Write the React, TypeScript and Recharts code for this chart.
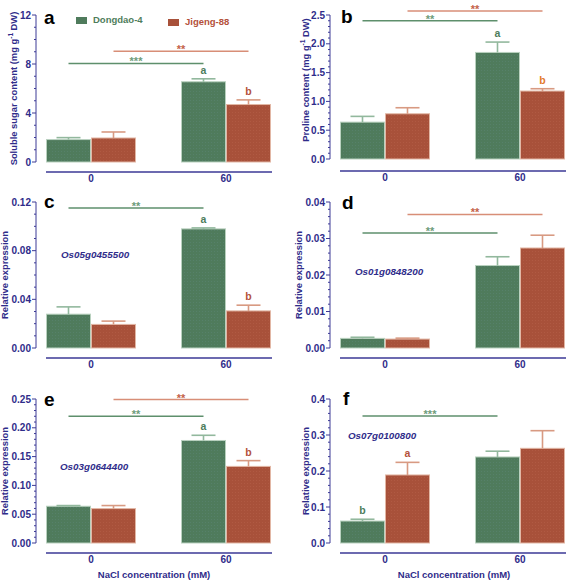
import React from 'react';
import { BarChart, Bar, XAxis, YAxis, Legend } from 'recharts';

// ---------------------------------------------------------------------------
// Style
// ---------------------------------------------------------------------------

const FONT = '"Liberation Sans", Arial, Helvetica, sans-serif';
const NAVY = '#2f2c8a';
const AXIS = '#3d3a96';
const GREEN = '#4f7b5c';
const RED = '#a8513a';
const GREEN_TEXT = '#4e7d5b';
const RED_TEXT = '#b4513a';

// ---------------------------------------------------------------------------
// Data
// ---------------------------------------------------------------------------

const groups = ['0', '60'];

// a – soluble sugar content
const sugarDongdao = [1.83, 6.55];
const sugarDongdaoErr = [0.16, 0.24];
const sugarJigeng = [1.96, 4.69];
const sugarJigengErr = [0.49, 0.38];
const sugarTicks = [0, 4, 8, 12];

// b – proline content
const prolineDongdao = [0.64, 1.85];
const prolineDongdaoErr = [0.1, 0.18];
const prolineJigeng = [0.785, 1.18];
const prolineJigengErr = [0.105, 0.04];
const prolineTicks = [0, 0.5, 1, 1.5, 2, 2.5];

// c – Os05g0455500
const os05Dongdao = [0.0278, 0.0979];
const os05DongdaoErr = [0.006, 0.0008];
const os05Jigeng = [0.0194, 0.0305];
const os05JigengErr = [0.0027, 0.0047];
const os05Ticks = [0, 0.04, 0.08, 0.12];

// d – Os01g0848200
const os01Dongdao = [0.00264, 0.0226];
const os01DongdaoErr = [0.0003, 0.0024];
const os01Jigeng = [0.00245, 0.0274];
const os01JigengErr = [0.00025, 0.0035];
const os01Ticks = [0, 0.01, 0.02, 0.03, 0.04];

// e – Os03g0644400
const os03Dongdao = [0.0638, 0.178];
const os03DongdaoErr = [0.0012, 0.009];
const os03Jigeng = [0.0597, 0.133];
const os03JigengErr = [0.0053, 0.01];
const os03Ticks = [0, 0.05, 0.1, 0.15, 0.2, 0.25];

// f – Os07g0100800
const os07Dongdao = [0.061, 0.239];
const os07DongdaoErr = [0.005, 0.016];
const os07Jigeng = [0.189, 0.263];
const os07JigengErr = [0.035, 0.049];
const os07Ticks = [0, 0.1, 0.2, 0.3, 0.4];

// letters over bars
const lettersAB = ['', 'a'];
const lettersBB = ['', 'b'];
const lettersNone = ['', ''];
const os07DongdaoLetters = ['b', ''];
const os07JigengLetters = ['a', ''];

// significance bars (0 vs 60 mM), [Dongdao-4, Jigeng-88]
const sugarSig = [8.05, 9.05];
const prolineSig = [2.4, 2.57];
const os05Sig = [0.115, null];
const os01Sig = [0.0315, 0.0366];
const os03Sig = [0.22, 0.249];
const os07Sig = [0.353, null];
const sugarStars = ['***', '**'];
const twoStars = ['**', '**'];
const os07Stars = ['***', ''];

const seriesNames = ['Dongdao-4', 'Jigeng-88'];
const panelLetters = ['a', 'b', 'c', 'd', 'e', 'f'];
const geneNames = ['Os05g0455500', 'Os01g0848200', 'Os03g0644400', 'Os07g0100800'];

// ---------------------------------------------------------------------------
// Panel layout
// ---------------------------------------------------------------------------

type Panel = {
  id: string;
  col: number;
  top: number;
  height: number;
  marginTop: number;
  padBottom: number;
  xHeight: number;
  majors: number[];
  minorDiv: number;
  decimals: number;
  yLabel: React.ReactNode;
  labelX: number;
  labelDy: number;
  dd: number[];
  ddErr: number[];
  jg: number[];
  jgErr: number[];
  ddLetters: string[];
  jgLetters: string[];
  jgLetterColor: string;
  sig: (number | null)[];
  stars: string[];
  title: boolean;
  titleDx: number;
  legend: boolean;
};

const relExpr = 'Relative expression';

const panels: Panel[] = [
  {
    id: 'a', col: 0, top: 0, height: 190, marginTop: 15, padBottom: 10, xHeight: 18,
    majors: sugarTicks, minorDiv: 4, decimals: 0,
    yLabel: (<>Soluble sugar content (mg g<tspan dy={-4} fontSize={6.5}>-1</tspan><tspan dy={4}> DW)</tspan></>),
    labelX: 17, labelDy: 0,
    dd: sugarDongdao, ddErr: sugarDongdaoErr, jg: sugarJigeng, jgErr: sugarJigengErr,
    ddLetters: lettersAB, jgLetters: lettersBB, jgLetterColor: RED_TEXT,
    sig: sugarSig, stars: sugarStars, title: false, titleDx: 0, legend: true,
  },
  {
    id: 'b', col: 1, top: 0, height: 189, marginTop: 15, padBottom: 12, xHeight: 18,
    majors: prolineTicks, minorDiv: 5, decimals: 1,
    yLabel: (<>Proline content (mg g<tspan dy={-4} fontSize={6.5}>-1</tspan><tspan dy={4}> DW)</tspan></>),
    labelX: 15, labelDy: -7,
    dd: prolineDongdao, ddErr: prolineDongdaoErr, jg: prolineJigeng, jgErr: prolineJigengErr,
    ddLetters: lettersAB, jgLetters: lettersBB, jgLetterColor: '#e27a2c',
    sig: prolineSig, stars: twoStars, title: false, titleDx: 0, legend: false,
  },
  {
    id: 'c', col: 0, top: 190, height: 186, marginTop: 12, padBottom: 10, xHeight: 18,
    majors: os05Ticks, minorDiv: 4, decimals: 2, yLabel: relExpr, labelX: 8, labelDy: 0,
    dd: os05Dongdao, ddErr: os05DongdaoErr, jg: os05Jigeng, jgErr: os05JigengErr,
    ddLetters: lettersAB, jgLetters: lettersBB, jgLetterColor: RED_TEXT,
    sig: os05Sig, stars: twoStars, title: false, titleDx: 0, legend: false,
  },
  {
    id: 'd', col: 1, top: 190, height: 186, marginTop: 12, padBottom: 10, xHeight: 18,
    majors: os01Ticks, minorDiv: 5, decimals: 2, yLabel: relExpr, labelX: 8, labelDy: 0,
    dd: os01Dongdao, ddErr: os01DongdaoErr, jg: os01Jigeng, jgErr: os01JigengErr,
    ddLetters: lettersNone, jgLetters: lettersNone, jgLetterColor: RED_TEXT,
    sig: os01Sig, stars: twoStars, title: false, titleDx: 0, legend: false,
  },
  {
    id: 'e', col: 0, top: 380, height: 201, marginTop: 19, padBottom: 10, xHeight: 28,
    majors: os03Ticks, minorDiv: 5, decimals: 2, yLabel: relExpr, labelX: 8, labelDy: 0,
    dd: os03Dongdao, ddErr: os03DongdaoErr, jg: os03Jigeng, jgErr: os03JigengErr,
    ddLetters: lettersAB, jgLetters: lettersBB, jgLetterColor: RED_TEXT,
    sig: os03Sig, stars: twoStars, title: true, titleDx: 0, legend: false,
  },
  {
    id: 'f', col: 1, top: 380, height: 201, marginTop: 19, padBottom: 10, xHeight: 28,
    majors: os07Ticks, minorDiv: 5, decimals: 1, yLabel: relExpr, labelX: 15, labelDy: 0,
    dd: os07Dongdao, ddErr: os07DongdaoErr, jg: os07Jigeng, jgErr: os07JigengErr,
    ddLetters: os07DongdaoLetters, jgLetters: os07JigengLetters, jgLetterColor: RED_TEXT,
    sig: os07Sig, stars: os07Stars, title: true, titleDx: 6, legend: false,
  },
];

// bar geometry per panel/series/index, used to join the 0 and 60 mM bars
const geom = new Map<string, { cx: number; base: number; ppu: number }>();

function allTicks(majors: number[], div: number) {
  const out: number[] = [];
  for (let i = 0; i < majors.length - 1; i++) {
    const step = (majors[i + 1] - majors[i]) / div;
    for (let k = 0; k < div; k++) out.push(+(majors[i] + k * step).toFixed(6));
  }
  out.push(majors[majors.length - 1]);
  return out;
}

function YTick(props: any) {
  const { x, y, payload, p } = props;
  const v = payload.value;
  const major = p.majors.some((m: number) => Math.abs(m - v) < 1e-9);
  return (
    <g>
      <line x1={x - (major ? 4 : 2)} x2={x} y1={y} y2={y} stroke={AXIS} strokeWidth={1} />
      {major && (
        <text x={x - 5} y={y} dy={3.6} textAnchor="end" fill={NAVY} fontSize={10}
          fontWeight={700} fontFamily={FONT}>
          {v.toFixed(p.decimals)}
        </text>
      )}
    </g>
  );
}

function barShape(p: Panel, key: 'dd' | 'jg') {
  const isDD = key === 'dd';
  const errColor = isDD ? '#92b89d' : '#d89a82';
  const edge = isDD ? '#b9d1bf' : '#e2b7a5';
  const lineColor = isDD ? '#5e8f6c' : '#d88e77';
  const starColor = isDD ? '#6e9c7b' : '#c4634a';
  const letterColor = isDD ? GREEN_TEXT : p.jgLetterColor;
  const level = isDD ? p.sig[0] : p.sig[1];
  const stars = isDD ? p.stars[0] : p.stars[1];

  return (props: any) => {
    const { x, y, width, height, index, payload } = props;
    const value = payload[key];
    const err = payload[key + 'Err'];
    const letter = payload[key + 'Letter'];
    const base = y + height;
    const ppu = value > 0 ? height / value : 0;
    const cx = x + width / 2;
    geom.set(`${p.id}-${key}-${index}`, { cx, base, ppu });
    const errTop = base - (value + err) * ppu;

    let sigEl = null;
    if (index === 1 && level != null) {
      const g0 = geom.get(`${p.id}-${key}-0`);
      if (g0) {
        const ly = base - level * ppu;
        sigEl = (
          <g>
            <line x1={g0.cx} x2={cx} y1={ly} y2={ly} stroke={lineColor} strokeWidth={1.5} />
            <text x={(g0.cx + cx) / 2} y={ly + 2} textAnchor="middle" fill={starColor}
              fontSize={11} fontWeight={700} fontFamily={FONT}>
              {stars}
            </text>
          </g>
        );
      }
    }

    return (
      <g>
        <rect x={x} y={y} width={width} height={height} fill={`url(#tex-${key})`}
          stroke={edge} strokeWidth={1} />
        <line x1={cx} x2={cx} y1={y} y2={errTop} stroke={errColor} strokeWidth={1.6} />
        <line x1={cx - 12} x2={cx + 12} y1={errTop} y2={errTop} stroke={errColor} strokeWidth={1.6} />
        {letter && (
          <text x={cx} y={errTop - 5} textAnchor="middle" fill={letterColor} fontSize={10.5}
            fontWeight={700} fontFamily={FONT}>
            {letter}
          </text>
        )}
        {sigEl}
      </g>
    );
  };
}

function renderLegend(props: any) {
  const items = props.payload || [];
  const textColors = [GREEN_TEXT, RED_TEXT];
  return (
    <div style={{ position: 'relative', height: 16, fontFamily: FONT }}>
      {items.map((it: any, i: number) => (
        <div key={i} style={{ position: 'absolute', left: i * 92, top: i * 2, display: 'flex',
          alignItems: 'center', whiteSpace: 'nowrap', lineHeight: '12px' }}>
          <span style={{ display: 'inline-block', width: 11, height: 7, background: it.color,
            marginRight: 6 }} />
          <span style={{ color: textColors[i], fontSize: 9.5, fontWeight: 700 }}>{it.value}</span>
        </div>
      ))}
    </div>
  );
}

function PanelChart({ p }: { p: Panel }) {
  const width = p.col ? 273 : 283;
  const rightMargin = p.col ? 1 : 11;
  const plotH = p.height - p.marginTop - p.xHeight;
  const rows = groups.map((g, i) => ({
    idx: i,
    group: g,
    dd: p.dd[i],
    ddErr: p.ddErr[i],
    ddLetter: p.ddLetters[i],
    jg: p.jg[i],
    jgErr: p.jgErr[i],
    jgLetter: p.jgLetters[i],
  }));
  const ticks = allTicks(p.majors, p.minorDiv);
  const max = p.majors[p.majors.length - 1];

  const yLabel = (lp: any) => {
    const vb = lp.viewBox || { x: 0, y: p.marginTop, width: 36, height: plotH };
    const cy = vb.y + (vb.height - p.padBottom) / 2 + p.labelDy;
    return (
      <text transform={`translate(${p.labelX},${cy}) rotate(-90)`} textAnchor="middle"
        fill={NAVY} fontSize={9.4} fontWeight={700} fontFamily={FONT}>
        {p.yLabel}
      </text>
    );
  };

  const xTitle = (lp: any) => {
    const vb = lp.viewBox || { x: 36, y: p.height - p.xHeight, width: width - 36 - rightMargin, height: p.xHeight };
    return (
      <text x={vb.x + vb.width / 2 + p.titleDx} y={vb.y + vb.height - 3} textAnchor="middle"
        fill={NAVY} fontSize={9.5} fontWeight={700} fontFamily={FONT}>
        NaCl concentration (mM)
      </text>
    );
  };

  return (
    <div style={{ position: 'absolute', left: p.col ? 294 : 0, top: p.top }}>
      <BarChart width={width} height={p.height} data={rows} barGap={1}
        margin={{ top: p.marginTop, right: rightMargin, left: 0, bottom: 0 }}>
        <XAxis type="number" dataKey="idx" domain={[0, 1]} ticks={[0, 1]}
          tickFormatter={(i: number) => groups[i]} padding={{ left: 55, right: 46 }}
          height={p.xHeight} tickLine={false} tickSize={0} tickMargin={3}
          axisLine={{ stroke: AXIS, strokeWidth: 1.6, strokeDasharray: '0 10 400' }}
          tick={{ fill: NAVY, fontSize: 10, fontWeight: 700, fontFamily: FONT }}
          label={p.title ? { content: xTitle } : undefined} />
        <YAxis type="number" domain={[0, max]} ticks={ticks} interval={0} width={36}
          padding={{ top: 0, bottom: p.padBottom }}
          tickLine={false} tickSize={0} tickMargin={0}
          tick={(tp: any) => <YTick {...tp} p={p} />}
          axisLine={{ stroke: AXIS, strokeWidth: 1, strokeDasharray: `${plotH - p.padBottom} 1000` }}
          label={{ content: yLabel }} />
        <Bar dataKey="dd" name={seriesNames[0]} fill={GREEN} barSize={44}
          isAnimationActive={false} shape={barShape(p, 'dd')} />
        <Bar dataKey="jg" name={seriesNames[1]} fill={RED} barSize={44}
          isAnimationActive={false} shape={barShape(p, 'jg')} />
        {p.legend && (
          <Legend layout="horizontal" verticalAlign="middle" align="center"
            wrapperStyle={{ top: 14, left: 76, width: 200, height: 16 }}
            content={renderLegend} />
        )}
      </BarChart>
    </div>
  );
}

const letterPos = [
  [44, 24], [341, 23], [44, 208], [342, 209], [44, 406], [343, 405],
];
const genePos = [
  [61, 258], [355, 275], [60, 470], [348, 439],
];

export default function App() {
  return (
    <div style={{ position: 'absolute', left: 0, top: 0, width: 567, height: 581,
      background: '#ffffff', fontFamily: FONT, overflow: 'hidden' }}>
      <svg width={0} height={0} style={{ position: 'absolute' }}>
        <defs>
          <pattern id="tex-dd" width={3} height={3} patternUnits="userSpaceOnUse">
            <rect width={3} height={3} fill={GREEN} />
            <rect x={1} y={1} width={1} height={1} fill="#56816a" />
          </pattern>
          <pattern id="tex-jg" width={3} height={3} patternUnits="userSpaceOnUse">
            <rect width={3} height={3} fill={RED} />
            <rect x={1} y={1} width={1} height={1} fill="#b05a43" />
          </pattern>
        </defs>
      </svg>
      {panels.map((p) => (
        <PanelChart key={p.id} p={p} />
      ))}
      <svg width={567} height={581} style={{ position: 'absolute', left: 0, top: 0, pointerEvents: 'none' }}>
        {panelLetters.map((l, i) => (
          <text key={l} x={letterPos[i][0]} y={letterPos[i][1]} fill="#000" fontSize={19}
            fontWeight={700} fontFamily={FONT}>
            {l}
          </text>
        ))}
        {geneNames.map((g, i) => (
          <text key={g} x={genePos[i][0]} y={genePos[i][1]} fill={NAVY} fontSize={9.8}
            fontWeight={700} fontStyle="italic" fontFamily={FONT}>
            {g}
          </text>
        ))}
      </svg>
    </div>
  );
}
